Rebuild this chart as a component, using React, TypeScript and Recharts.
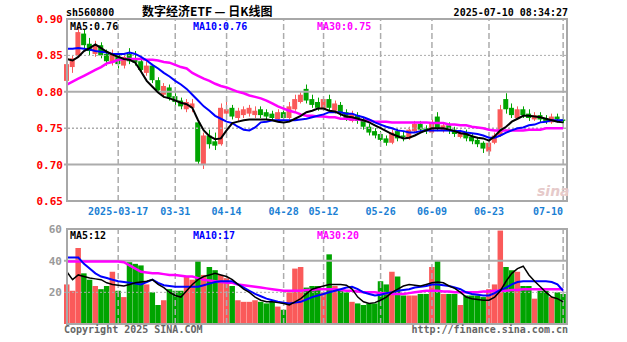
import React from "react";
import { ComposedChart, Bar, Line, XAxis, YAxis, ReferenceLine, Cell } from "recharts";

// trading days shown on the chart (2025)
const dates = [
  "03-04", "03-05", "03-06", "03-07", "03-10", "03-11", "03-12", "03-13", "03-14", "03-17",
  "03-18", "03-19", "03-20", "03-21", "03-24", "03-25", "03-26", "03-27", "03-28", "03-31",
  "04-01", "04-02", "04-03", "04-07", "04-08", "04-09", "04-10", "04-11", "04-14", "04-15",
  "04-16", "04-17", "04-18", "04-21", "04-22", "04-23", "04-24", "04-25", "04-28", "04-29",
  "04-30", "05-06", "05-07", "05-08", "05-09", "05-12", "05-13", "05-14", "05-15", "05-16",
  "05-19", "05-20", "05-21", "05-22", "05-23", "05-26", "05-27", "05-28", "05-29", "05-30",
  "06-03", "06-04", "06-05", "06-06", "06-09", "06-10", "06-11", "06-12", "06-13", "06-16",
  "06-17", "06-18", "06-19", "06-20", "06-23", "06-24", "06-25", "06-26", "06-27", "06-30",
  "07-01", "07-02", "07-03", "07-04", "07-07", "07-08", "07-09", "07-10",
];

const opens = [
  0.815, 0.834, 0.85, 0.88, 0.866, 0.852, 0.864, 0.852, 0.84, 0.852,
  0.836, 0.852, 0.846, 0.842, 0.826, 0.836, 0.816, 0.796, 0.806, 0.794,
  0.788, 0.776, 0.778, 0.758, 0.7, 0.74, 0.732, 0.728, 0.77, 0.778,
  0.764, 0.768, 0.77, 0.768, 0.776, 0.772, 0.77, 0.762, 0.772, 0.764,
  0.776, 0.786, 0.804, 0.79, 0.786, 0.776, 0.79, 0.774, 0.782, 0.772,
  0.76, 0.768, 0.76, 0.752, 0.746, 0.742, 0.736, 0.73, 0.746, 0.74,
  0.736, 0.746, 0.756, 0.75, 0.744, 0.766, 0.746, 0.754, 0.748, 0.738,
  0.744, 0.738, 0.734, 0.73, 0.718, 0.73, 0.74, 0.79, 0.778, 0.764,
  0.776, 0.77, 0.762, 0.768, 0.764, 0.758, 0.766, 0.762,
];
const highs = [
  0.845, 0.85, 0.888, 0.886, 0.874, 0.87, 0.868, 0.858, 0.858, 0.856,
  0.852, 0.86, 0.856, 0.846, 0.842, 0.838, 0.82, 0.812, 0.81, 0.798,
  0.792, 0.79, 0.79, 0.76, 0.744, 0.748, 0.744, 0.784, 0.786, 0.782,
  0.778, 0.78, 0.782, 0.78, 0.78, 0.776, 0.774, 0.776, 0.776, 0.786,
  0.796, 0.8, 0.81, 0.796, 0.792, 0.794, 0.796, 0.788, 0.786, 0.776,
  0.774, 0.772, 0.764, 0.756, 0.75, 0.746, 0.74, 0.748, 0.75, 0.746,
  0.752, 0.76, 0.76, 0.754, 0.762, 0.772, 0.756, 0.758, 0.752, 0.748,
  0.748, 0.742, 0.738, 0.732, 0.734, 0.744, 0.782, 0.798, 0.784, 0.78,
  0.78, 0.776, 0.772, 0.772, 0.768, 0.77, 0.77, 0.766,
];
const lows = [
  0.806, 0.826, 0.848, 0.858, 0.85, 0.848, 0.846, 0.836, 0.836, 0.832,
  0.832, 0.838, 0.836, 0.826, 0.822, 0.812, 0.798, 0.792, 0.788, 0.782,
  0.776, 0.772, 0.772, 0.7, 0.694, 0.722, 0.72, 0.726, 0.766, 0.762,
  0.76, 0.764, 0.766, 0.764, 0.764, 0.762, 0.76, 0.758, 0.76, 0.762,
  0.774, 0.784, 0.784, 0.778, 0.774, 0.774, 0.774, 0.77, 0.766, 0.76,
  0.758, 0.756, 0.748, 0.74, 0.736, 0.73, 0.726, 0.728, 0.732, 0.732,
  0.734, 0.744, 0.744, 0.742, 0.742, 0.746, 0.744, 0.742, 0.738, 0.736,
  0.732, 0.728, 0.724, 0.716, 0.714, 0.728, 0.738, 0.77, 0.764, 0.762,
  0.764, 0.76, 0.76, 0.758, 0.756, 0.756, 0.758, 0.756,
];
const closes = [
  0.838, 0.846, 0.882, 0.864, 0.856, 0.864, 0.85, 0.842, 0.852, 0.838,
  0.848, 0.842, 0.84, 0.83, 0.836, 0.816, 0.802, 0.808, 0.792, 0.786,
  0.78, 0.786, 0.784, 0.704, 0.74, 0.728, 0.726, 0.778, 0.776, 0.766,
  0.774, 0.776, 0.778, 0.774, 0.768, 0.766, 0.764, 0.772, 0.764, 0.78,
  0.79, 0.796, 0.788, 0.782, 0.778, 0.79, 0.778, 0.784, 0.77, 0.764,
  0.77, 0.76, 0.752, 0.744, 0.74, 0.734, 0.73, 0.744, 0.736, 0.738,
  0.748, 0.756, 0.748, 0.746, 0.758, 0.75, 0.754, 0.746, 0.742, 0.744,
  0.736, 0.732, 0.728, 0.722, 0.73, 0.74, 0.776, 0.776, 0.768, 0.776,
  0.768, 0.764, 0.768, 0.762, 0.76, 0.766, 0.762, 0.76,
];

const ma5 = [
  0.845, 0.843, 0.848, 0.856, 0.86, 0.865, 0.86, 0.855, 0.851, 0.848,
  0.845, 0.844, 0.84, 0.828, 0.815, 0.807, 0.799, 0.793, 0.791, 0.788,
  0.785, 0.783, 0.778, 0.761, 0.747, 0.739, 0.735, 0.736, 0.747, 0.757,
  0.759, 0.761, 0.762, 0.762, 0.762, 0.762, 0.761, 0.759, 0.758, 0.759,
  0.763, 0.767, 0.772, 0.774, 0.777, 0.777, 0.774, 0.773, 0.769, 0.766,
  0.765, 0.763, 0.761, 0.758, 0.754, 0.75, 0.746, 0.742, 0.739, 0.736,
  0.737, 0.74, 0.744, 0.747, 0.75, 0.75, 0.75, 0.748, 0.746, 0.743,
  0.742, 0.739, 0.737, 0.736, 0.733, 0.739, 0.747, 0.752, 0.759, 0.763,
  0.767, 0.767, 0.766, 0.765, 0.763, 0.761, 0.759, 0.758,
];
const ma10 = [
  0.859, 0.859, 0.86, 0.859, 0.858, 0.856, 0.855, 0.854, 0.852, 0.852,
  0.852, 0.854, 0.852, 0.848, 0.843, 0.837, 0.832, 0.826, 0.821, 0.815,
  0.81, 0.804, 0.796, 0.788, 0.78, 0.774, 0.767, 0.763, 0.759, 0.757,
  0.752, 0.748, 0.747, 0.751, 0.758, 0.759, 0.761, 0.761, 0.761, 0.761,
  0.761, 0.762, 0.763, 0.765, 0.767, 0.769, 0.772, 0.772, 0.772, 0.77,
  0.77, 0.767, 0.765, 0.762, 0.758, 0.755, 0.752, 0.75, 0.747, 0.746,
  0.744, 0.744, 0.746, 0.747, 0.747, 0.747, 0.747, 0.747, 0.746, 0.746,
  0.744, 0.743, 0.742, 0.74, 0.737, 0.737, 0.74, 0.744, 0.747, 0.75,
  0.751, 0.754, 0.755, 0.758, 0.759, 0.761, 0.761, 0.761,
];
const ma30 = [
  0.81, 0.814, 0.818, 0.822, 0.826, 0.83, 0.834, 0.839, 0.841, 0.844,
  0.845, 0.845, 0.845, 0.845, 0.844, 0.844, 0.843, 0.841, 0.84, 0.837,
  0.834, 0.832, 0.826, 0.822, 0.818, 0.815, 0.811, 0.808, 0.806, 0.803,
  0.8, 0.798, 0.795, 0.793, 0.791, 0.788, 0.784, 0.78, 0.777, 0.774,
  0.772, 0.769, 0.767, 0.767, 0.766, 0.766, 0.765, 0.765, 0.763, 0.763,
  0.762, 0.762, 0.761, 0.761, 0.759, 0.759, 0.759, 0.758, 0.758, 0.758,
  0.758, 0.758, 0.758, 0.758, 0.757, 0.757, 0.757, 0.755, 0.755, 0.754,
  0.754, 0.752, 0.751, 0.75, 0.748, 0.747, 0.747, 0.747, 0.747, 0.747,
  0.747, 0.748, 0.748, 0.748, 0.75, 0.75, 0.75, 0.75,
];

// volume (万手)
const volumes = [
  25, 21, 48, 32, 28, 24, 22, 24, 33, 21,
  17, 39, 38, 37, 25, 20, 12, 15, 22, 21,
  21, 30, 28, 40, 31, 36, 34, 31, 29, 24,
  15, 14, 14, 15, 14, 13, 14, 11, 9, 20,
  35, 36, 23, 24, 24, 20, 44, 24, 21, 20,
  14, 13, 12, 13, 13, 27, 25, 33, 30, 18,
  18, 18, 19, 19, 36, 40, 19, 19, 19, 12,
  18, 18, 18, 17, 22, 25, 59, 36, 34, 33,
  24, 24, 16, 21, 21, 17, 20, 19,
];
const volMa5 = [
  33, 28, 31, 30, 29, 28.5, 28, 26, 25, 24.5,
  24, 25, 26, 26.5, 27, 28, 25, 23, 20, 18,
  17, 21, 25, 28, 30, 31, 32, 31, 30, 28,
  25, 22, 20, 17, 15, 14, 14, 13.5, 13, 12,
  14, 16, 19, 22, 23, 24, 25, 25, 25, 24.5,
  22, 17, 14, 13, 13.5, 15, 17, 20, 22, 24,
  25, 24.5, 24, 25, 26, 26.5, 26, 24, 22.5, 20,
  17, 16, 15.5, 15, 15, 17, 21, 27, 32, 35,
  36.5, 31, 27, 23.5, 20, 17, 16, 14,
];
const volMa10 = [
  42, 42, 42, 38, 35, 32, 30, 29, 28, 27,
  26.5, 26, 25.5, 25, 26.5, 28, 26, 24.5, 24, 23.5,
  23.5, 23.5, 23.5, 23.5, 24.5, 25.5, 26.5, 27, 27, 27,
  25, 23, 21, 19, 17.5, 16, 15, 14, 13.5, 13,
  13.5, 14, 15.5, 17, 18, 19, 20, 21, 22, 23,
  23.5, 22, 20, 19, 18, 18.5, 19.5, 20, 21, 21.5,
  22, 23, 23.5, 24, 25, 25, 24.5, 24, 23, 22,
  20, 19, 18.5, 18, 18, 19.5, 21.5, 23, 25, 26.5,
  27, 27, 27, 27, 27, 26.5, 25, 21,
];
const volMa30 = [
  39.5, 39.5, 39.5, 39.5, 39.5, 39.5, 39.5, 39.5, 39.5, 39.5,
  39, 37, 35, 33, 32.5, 32, 32, 31.5, 31, 31,
  30.5, 30, 30, 29, 28, 27.5, 27, 26.5, 26, 26,
  25, 24.5, 24, 23.5, 23, 22.5, 22, 21.5, 21, 21,
  21, 21, 21.5, 21.5, 22, 22, 22, 22, 21.5, 21,
  21, 20.5, 20, 20, 20, 19.5, 19.5, 19, 19, 19,
  19.5, 20, 20.5, 21, 21, 21, 20.5, 20.5, 20, 20,
  20, 20, 20, 20.5, 20.5, 21, 21, 21, 21.5, 21.5,
  22, 22, 22, 22, 22, 22, 22, 22,
];

const tickDates = ["03-17", "03-31", "04-14", "04-28", "05-12", "05-26", "06-09", "06-23", "07-10"];
const priceTicks = [0.65, 0.7, 0.75, 0.8, 0.85, 0.9];
const volTicks = [20, 40, 60];

const UP = "#fa5a5a";
const DOWN = "#00a400";
const GRID = "#acacac";
const MONO = "'DejaVu Sans Mono', monospace";

const rows = dates.map((date, i) => ({
  date,
  open: opens[i],
  high: highs[i],
  low: lows[i],
  close: closes[i],
  range: [lows[i], highs[i]],
  vol: volumes[i],
  ma5: ma5[i],
  ma10: ma10[i],
  ma30: ma30[i],
  vma5: volMa5[i],
  vma10: volMa10[i],
  vma30: volMa30[i],
}));

function Candle(props: any) {
  const { x, y, width, height, payload } = props;
  if (!payload) return null;
  const top = Math.min(y, y + height);
  const h = Math.abs(height);
  const { open, close, high, low } = payload;
  const color = close >= open ? UP : DOWN;
  const toY = (v: number) => top + ((high - v) / (high - low || 1)) * h;
  const bodyTop = toY(Math.max(open, close));
  const bodyBottom = toY(Math.min(open, close));
  const cx = Math.round(x + width / 2) + 0.5;
  return (
    <g>
      <line x1={cx} x2={cx} y1={top} y2={top + h} stroke={color} strokeWidth={1} />
      <rect x={x} y={bodyTop} width={width} height={Math.max(1, bodyBottom - bodyTop)} fill={color} />
    </g>
  );
}

function DateTick(props: any) {
  const { x, y, payload } = props;
  const v = payload.value as string;
  const last = v === tickDates[tickDates.length - 1];
  return (
    <text
      x={x}
      y={y + 14}
      textAnchor={last ? "end" : "middle"}
      fill="#1a80d4"
      fontFamily={MONO}
      fontWeight="bold"
      fontSize={10}
    >
      {v === "03-17" ? "2025-03-17" : v}
    </text>
  );
}

function PriceTick(props: any) {
  const { y, payload } = props;
  return (
    <text x={63} y={y + 4} textAnchor="end" fill="#ff0000" fontFamily={MONO} fontWeight="bold" fontSize={11}>
      {Number(payload.value).toFixed(2)}
    </text>
  );
}

function VolTick(props: any) {
  const { y, payload } = props;
  return (
    <text x={62} y={y + 4} textAnchor="end" fill="#9a9a9a" fontFamily={MONO} fontWeight="bold" fontSize={11}>
      {payload.value}
    </text>
  );
}

const label = (x: number, y: number, text: string, fill: string, extra: any = {}) => (
  <text x={x} y={y} fill={fill} fontFamily={MONO} fontWeight="bold" fontSize={10} {...extra}>
    {text}
  </text>
);

export default function App() {
  return (
    <div style={{ position: "fixed", left: 0, top: 0, width: 627, height: 342, background: "#fff", overflow: "hidden" }}>
      <div style={{ position: "absolute", left: 0, top: 0 }}>
        <ComposedChart width={627} height={220} data={rows} margin={{ top: 19, right: 61, bottom: 0, left: 0 }}>
          <XAxis
            dataKey="date"
            ticks={tickDates}
            interval={0}
            axisLine={false}
            tickLine={false}
            tickSize={0}
            tickMargin={0}
            height={19}
            tick={DateTick}
          />
          <YAxis
            width={64}
            domain={[0.65, 0.9]}
            ticks={priceTicks}
            allowDataOverflow
            axisLine={false}
            tickLine={false}
            tickSize={0}
            tick={PriceTick}
          />
          {tickDates.map((d) => (
            <ReferenceLine key={d} x={d} stroke={GRID} strokeDasharray="6 3" strokeWidth={1.5} />
          ))}
          <ReferenceLine y={0.85} stroke={GRID} strokeDasharray="2 2" />
          <ReferenceLine y={0.8} stroke={GRID} strokeWidth={2} />
          <ReferenceLine y={0.75} stroke={GRID} strokeDasharray="2 2" strokeWidth={1.5} />
          <ReferenceLine y={0.7} stroke={GRID} strokeWidth={2} />
          <Bar dataKey="range" barSize={5} shape={Candle} isAnimationActive={false} />
          <Line type="linear" dataKey="ma30" stroke="#ff00ff" strokeWidth={2.5} dot={false} isAnimationActive={false} />
          <Line type="linear" dataKey="ma10" stroke="#0000ff" strokeWidth={2} dot={false} isAnimationActive={false} />
          <Line type="linear" dataKey="ma5" stroke="#000000" strokeWidth={2} dot={false} isAnimationActive={false} />
        </ComposedChart>
      </div>

      <div style={{ position: "absolute", left: 0, top: 220 }}>
        <ComposedChart width={627} height={110} data={rows} margin={{ top: 9, right: 61, bottom: 6, left: 0 }}>
          <XAxis dataKey="date" hide />
          <YAxis
            width={64}
            domain={[0, 60]}
            ticks={volTicks}
            allowDataOverflow
            axisLine={false}
            tickLine={false}
            tickSize={0}
            tick={VolTick}
          />
          {tickDates.map((d) => (
            <ReferenceLine key={d} x={d} stroke={GRID} strokeDasharray="6 3" strokeWidth={1.5} />
          ))}
          <ReferenceLine y={40} stroke={GRID} strokeWidth={2} />
          <ReferenceLine y={20} stroke={GRID} strokeDasharray="2 2" />
          <Bar dataKey="vol" barSize={5.5} isAnimationActive={false}>
            {rows.map((r, i) => (
              <Cell key={i} fill={r.close >= r.open ? UP : DOWN} />
            ))}
          </Bar>
          <Line type="linear" dataKey="vma30" stroke="#ff00ff" strokeWidth={2.5} dot={false} isAnimationActive={false} />
          <Line type="linear" dataKey="vma10" stroke="#0000ff" strokeWidth={2} dot={false} isAnimationActive={false} />
          <Line type="linear" dataKey="vma5" stroke="#000000" strokeWidth={1.5} dot={false} isAnimationActive={false} />
        </ComposedChart>
      </div>

      <svg width={627} height={342} style={{ position: "absolute", left: 0, top: 0, pointerEvents: "none" }}>
        <rect x={67} y={19} width={500} height={182} fill="none" stroke="#a8a8a8" strokeWidth={2} />
        <rect x={67} y={229} width={500} height={95} fill="none" stroke="#a8a8a8" strokeWidth={2} />
        {label(66, 16, "sh560800", "#000")}
        <text x={142} y={16} fill="#000" fontFamily="'Noto Sans CJK SC', sans-serif" fontWeight="bold" fontSize={12}>
          数字经济ETF — 日K线图
        </text>
        {label(568, 16, "2025-07-10 08:34:27", "#000", { textAnchor: "end" })}
        {label(70, 30, "MA5:0.76", "#000")}
        {label(193, 30, "MA10:0.76", "#0000ff")}
        {label(317, 30, "MA30:0.75", "#ff00ff")}
        {label(70, 239, "MA5:12", "#000")}
        {label(193, 239, "MA10:17", "#0000ff")}
        {label(317, 239, "MA30:20", "#ff00ff")}
        {label(64, 333, "Copyright 2025 SINA.COM", "#666")}
        {label(568, 333, "http://finance.sina.com.cn", "#666", { textAnchor: "end" })}
        <text x={537} y={196} fill="#e6caca" fontFamily="'DejaVu Sans', sans-serif" fontStyle="italic" fontWeight="bold" fontSize={14}>
          sina
        </text>
      </svg>
    </div>
  );
}
